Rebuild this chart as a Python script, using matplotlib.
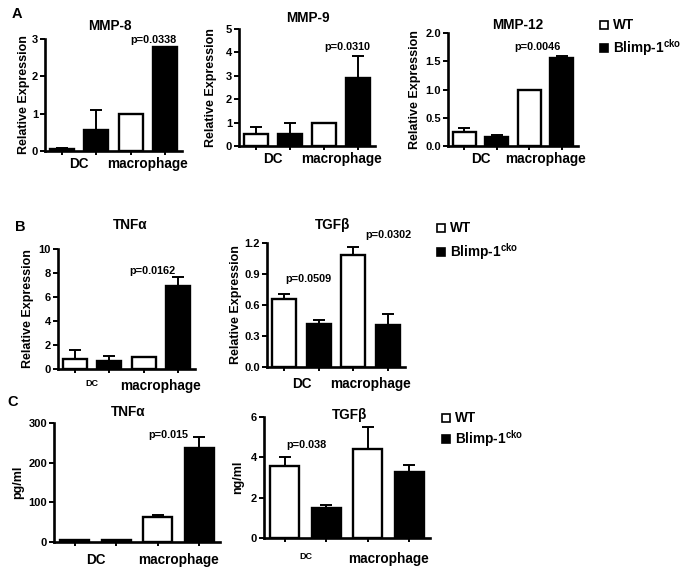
import matplotlib
matplotlib.use("Agg")
import matplotlib.pyplot as plt
from matplotlib.patches import Rectangle

plt.rcParams['font.family'] = ['Liberation Sans', 'DejaVu Sans']
plt.rcParams['font.weight'] = 'bold'
plt.rcParams['mathtext.fontset'] = 'custom'
plt.rcParams['mathtext.rm'] = 'Liberation Sans'
plt.rcParams['mathtext.bf'] = 'Liberation Sans:bold'

W, H = 690, 573
fig = plt.figure(figsize=(W / 100, H / 100), dpi=100)

categories = ["DC", "macrophage"]
series = ["WT", "Blimp-1$^{\\mathregular{cko}}$"]

# ---- data: [WT DC, KO DC, WT mac, KO mac] ----
mmp8_vals = [0.05, 0.55, 1.0, 2.78]
mmp8_err = [0.02, 0.55, 0.0, 0.0]
mmp9_vals = [0.52, 0.50, 1.0, 2.90]
mmp9_err = [0.30, 0.50, 0.0, 0.95]
mmp12_vals = [0.25, 0.16, 1.0, 1.56]
mmp12_err = [0.07, 0.04, 0.0, 0.03]
tnf_rna_vals = [0.83, 0.64, 1.02, 6.95]
tnf_rna_err = [0.72, 0.46, 0.0, 0.72]
tgf_rna_vals = [0.655, 0.415, 1.08, 0.405]
tgf_rna_err = [0.052, 0.042, 0.078, 0.105]
tnf_prot_vals = [6, 6, 62, 238]
tnf_prot_err = [0, 0, 6.5, 27]
tgf_prot_vals = [3.59, 1.48, 4.41, 3.27]
tgf_prot_err = [0.43, 0.15, 1.08, 0.33]


def ax_px(x0, x1, ytop, ybot):
    return fig.add_axes([x0 / W, 1 - ybot / H, (x1 - x0) / W, (ybot - ytop) / H])


def bar_panel(box, vals, errs, ylim, yticks, yticklabels, ylabel, title, title_xy,
              pvals, ylabel_x, dc_small=False, label_pad=4.5):
    ax = ax_px(*box)
    xs = [0, 1, 2, 3]
    colors = ['white', 'black', 'white', 'black']
    for x, v, e, c in zip(xs, vals, errs, colors):
        ax.bar(x, v, width=0.7, color=c, edgecolor='black', linewidth=1.7, zorder=2)
        if e > 0:
            ax.errorbar(x, v, yerr=[[0], [e]], fmt='none', ecolor='black',
                        elinewidth=1.4, capsize=4.5, capthick=1.4, zorder=1)
    ax.set_xlim(-0.5, 3.5)
    ax.set_ylim(*ylim)
    ax.set_yticks(yticks)
    ax.set_yticklabels(yticklabels, fontsize=8, fontweight='bold')
    ax.set_xticks(xs)
    ax.set_xticklabels([])
    ax.set_xticks([0.5, 2.5], minor=True)
    ax.set_xticklabels(categories, minor=True, fontsize=9.8, fontweight='bold')
    if dc_small:
        ax.get_xticklabels(minor=True)[0].set_fontsize(6.5)
    ax.tick_params(axis='x', which='minor', length=0, pad=label_pad)
    ax.tick_params(axis='x', which='major', length=3, width=1.4, direction='out')
    ax.tick_params(axis='y', length=3.5, width=1.4, pad=1.5)
    for s in ['top', 'right']:
        ax.spines[s].set_visible(False)
    for s in ['left', 'bottom']:
        ax.spines[s].set_linewidth(1.9)
    ax.patch.set_alpha(0)
    fig.text(ylabel_x / W, 1 - (box[2] + box[3]) / 2 / H, ylabel, rotation=90,
             ha='center', va='center', fontsize=9, fontweight='bold')
    fig.text(title_xy[0] / W, 1 - title_xy[1] / H, title, ha='center', va='center',
             fontsize=9.8, fontweight='bold')
    for (px, py, txt) in pvals:
        fig.text(px / W, 1 - py / H, txt, ha='center', va='center',
                 fontsize=7.8, fontweight='bold')
    return ax


def legend_at(x, y1, y2):
    for yy, fc, lab in [(y1, 'white', series[0]), (y2, 'black', series[1])]:
        fig.patches.append(Rectangle(((x - 4) / W, 1 - (yy + 4) / H), 8 / W, 8 / H,
                                     transform=fig.transFigure, facecolor=fc,
                                     edgecolor='black', linewidth=1.2))
        fig.text((x + 9) / W, 1 - yy / H, lab, ha='left', va='center',
                 fontsize=9.8, fontweight='bold')


def letter(x, y, s):
    fig.text(x / W, 1 - y / H, s, ha='center', va='center', fontsize=10.5,
             fontweight='bold')


# ---- Panel A ----
letter(17, 14, "A")
bar_panel((45, 182, 39, 151), mmp8_vals, mmp8_err, (0, 3), [0, 1, 2, 3],
          ["0", "1", "2", "3"], "Relative Expression", "MMP-8", (110, 26),
          [(153, 40, "p=0.0338")], 24)
bar_panel((239, 375, 29, 146), mmp9_vals, mmp9_err, (0, 5), [0, 1, 2, 3, 4, 5],
          ["0", "1", "2", "3", "4", "5"], "Relative Expression", "MMP-9", (308, 18),
          [(347, 47, "p=0.0310")], 211)
bar_panel((448, 578, 33, 146), mmp12_vals, mmp12_err, (0, 2.0),
          [0, 0.5, 1.0, 1.5, 2.0], ["0.0", "0.5", "1.0", "1.5", "2.0"],
          "Relative Expression", "MMP-12", (518, 25),
          [(537, 47, "p=0.0046")], 415)
legend_at(604, 25, 48)

# ---- Panel B ----
letter(20, 227, "B")
bar_panel((58, 195, 249, 369), tnf_rna_vals, tnf_rna_err, (0, 10),
          [0, 2, 4, 6, 8, 10], ["0", "2", "4", "6", "8", "10"],
          "Relative Expression", "TNF\u03b1", (130, 225),
          [(152, 271, "p=0.0162")], 28, dc_small=True, label_pad=7)
bar_panel((267, 405, 243, 367), tgf_rna_vals, tgf_rna_err, (0, 1.2),
          [0, 0.3, 0.6, 0.9, 1.2], ["0.0", "0.3", "0.6", "0.9", "1.2"],
          "Relative Expression", "TGF\u03b2", (333, 225),
          [(308, 279, "p=0.0509"), (388, 235, "p=0.0302")], 236, label_pad=7)
legend_at(441, 228, 252)

# ---- Panel C ----
letter(13, 402, "C")
bar_panel((54, 220, 423, 542), tnf_prot_vals, tnf_prot_err, (0, 300),
          [0, 100, 200, 300], ["0", "100", "200", "300"],
          "pg/ml", "TNF\u03b1", (128, 412),
          [(168, 435, "p=0.015")], 18, label_pad=8)
bar_panel((264, 430, 417, 538), tgf_prot_vals, tgf_prot_err, (0, 6),
          [0, 2, 4, 6], ["0", "2", "4", "6"],
          "ng/ml", "TGF\u03b2", (350, 415),
          [(306, 445, "p=0.038")], 238, dc_small=True, label_pad=10)
legend_at(446, 418, 439)

fig.savefig("out.png", dpi=100)
